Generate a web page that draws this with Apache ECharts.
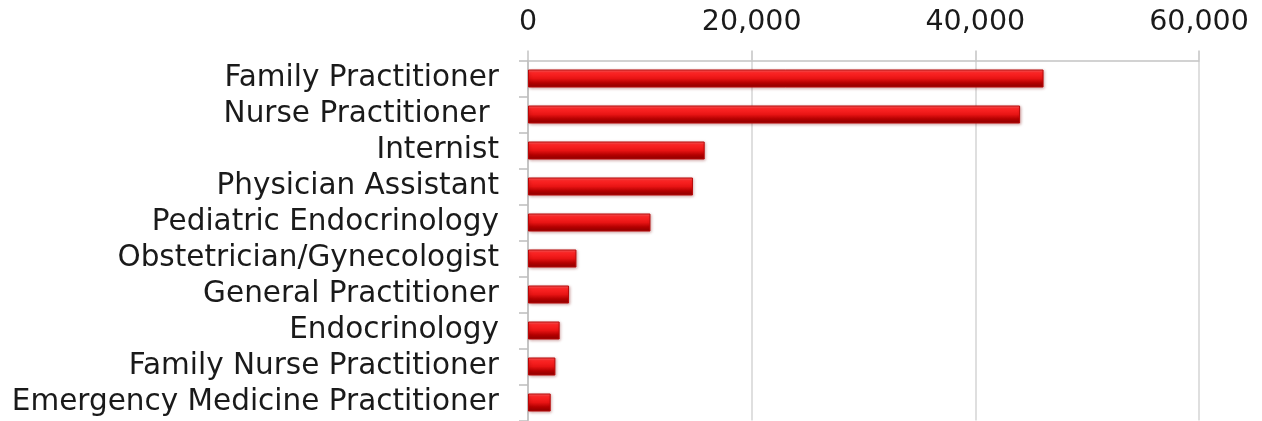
<!DOCTYPE html>
<html>
<head>
<meta charset="utf-8">
<script src="https://cdn.jsdelivr.net/npm/echarts@6/dist/echarts.min.js"></script>
<style>
  html, body { margin: 0; padding: 0; background: #fff; }
  #chart { width: 1262px; height: 421px; }
</style>
</head>
<body>
<div id="chart"></div>
<script>
// Provider types, top to bottom
const categories = [
  'Family Practitioner',
  'Nurse Practitioner ',
  'Internist',
  'Physician Assistant',
  'Pediatric Endocrinology',
  'Obstetrician/Gynecologist',
  'General Practitioner',
  'Endocrinology',
  'Family Nurse Practitioner',
  'Emergency Medicine Practitioner'
];
// Count per provider type
const counts = [46100, 44000, 15800, 14750, 10950, 4330, 3670, 2830, 2450, 2030];
// Value axis range
const axisMin = 0;
const axisMax = 60000;
const axisStep = 20000;

const FONT = '"DejaVu Sans", sans-serif';
const chart = echarts.init(document.getElementById('chart'), null, { renderer: 'canvas' });

chart.setOption({
  animation: false,
  backgroundColor: '#ffffff',
  grid: { left: 528, right: 63, top: 60.5, bottom: 0.5, containLabel: false },
  xAxis: {
    type: 'value',
    position: 'top',
    min: axisMin,
    max: axisMax,
    interval: axisStep,
    axisLine: { show: true, lineStyle: { color: '#c4c4c4', width: 1.5 } },
    axisTick: { show: true, length: 10, lineStyle: { color: '#c4c4c4', width: 1.5 } },
    splitLine: { show: true, lineStyle: { color: '#d4d4d4', width: 1.5 } },
    axisLabel: {
      margin: 23,
      color: '#1a1a1a',
      fontFamily: FONT,
      fontSize: 28.5,
      formatter: v => v.toLocaleString('en-US')
    }
  },
  yAxis: {
    type: 'category',
    inverse: true,
    data: categories,
    axisLine: { show: true, lineStyle: { color: '#bdbdbd', width: 1.5 } },
    axisTick: { show: true, length: 9, lineStyle: { color: '#bdbdbd', width: 1.5 } },
    axisLabel: {
      interval: 0,
      hideOverlap: false,
      margin: 29,
      color: '#1a1a1a',
      fontFamily: FONT,
      fontSize: 29.5
    }
  },
  series: [{
    type: 'bar',
    data: counts,
    barWidth: 18,
    itemStyle: {
      color: new echarts.graphic.LinearGradient(0, 0, 0, 1, [
        { offset: 0, color: '#ff6a6a' },
        { offset: 0.18, color: '#ff2626' },
        { offset: 0.5, color: '#e81414' },
        { offset: 0.75, color: '#b30000' },
        { offset: 1, color: '#8c0000' }
      ]),
      borderColor: '#b80808',
      borderWidth: 1,
      shadowColor: 'rgba(120,0,0,0.35)',
      shadowBlur: 3,
      shadowOffsetX: 1,
      shadowOffsetY: 1
    }
  }]
});
</script>
</body>
</html>
